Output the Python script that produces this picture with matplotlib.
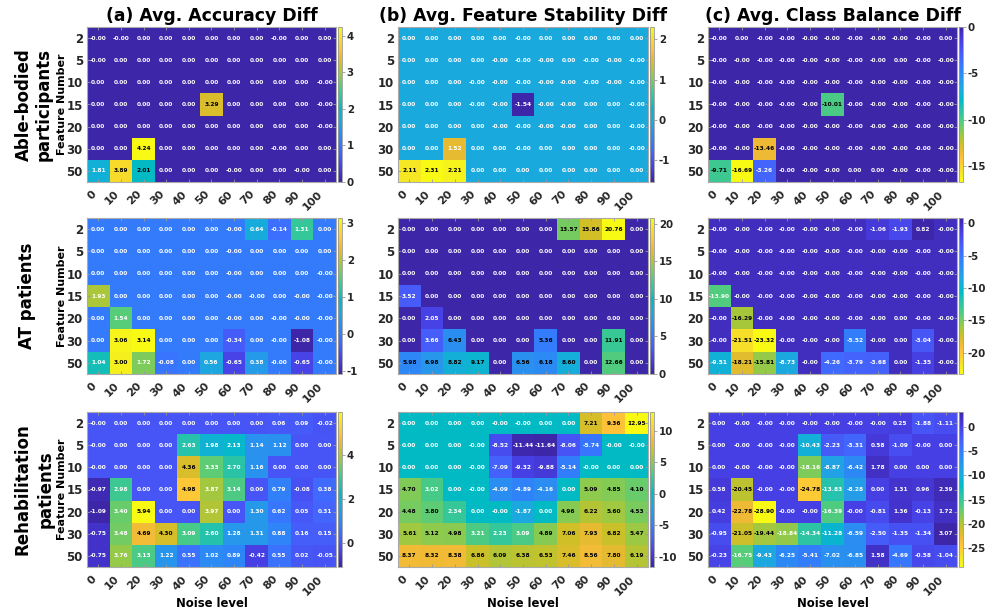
import numpy as np
import matplotlib
matplotlib.use("Agg")
import matplotlib.pyplot as plt
from matplotlib.colors import LinearSegmentedColormap, Normalize

plt.rcParams['font.family'] = ['DejaVu Sans']
plt.rcParams['font.weight'] = 'bold'
plt.rcParams['axes.unicode_minus'] = False

feature_numbers = [2, 5, 10, 15, 20, 30, 50]
noise_levels = [0, 10, 20, 30, 40, 50, 60, 70, 80, 90, 100]
groups = ['Able-bodied\nparticipants', 'AT patients', 'Rehabilitation\npatients']
metrics = ['(a) Avg. Accuracy Diff', '(b) Avg. Feature Stability Diff', '(c) Avg. Class Balance Diff']

# able-bodied participants
able_acc = np.array([
    [-0.0, -0.0, 0.0, 0.0, 0.0, 0.0, 0.0, 0.0, -0.0, 0.0, 0.0],
    [-0.0, 0.0, 0.0, 0.0, 0.0, 0.0, 0.0, 0.0, 0.0, 0.0, 0.0],
    [0.0, 0.0, 0.0, 0.0, 0.0, 0.0, 0.0, 0.0, 0.0, 0.0, -0.0],
    [0.0, 0.0, 0.0, 0.0, 0.0, 3.29, 0.0, 0.0, 0.0, 0.0, -0.0],
    [0.0, 0.0, 0.0, 0.0, 0.0, 0.0, 0.0, 0.0, 0.0, 0.0, -0.0],
    [0.0, 0.0, 4.24, 0.0, 0.0, 0.0, 0.0, 0.0, -0.0, 0.0, 0.0],
    [1.81, 3.89, 2.01, 0.0, 0.0, 0.0, -0.0, 0.0, 0.0, -0.0, 0.0]])
able_stab = np.array([
    [0.0, 0.0, 0.0, 0.0, 0.0, -0.0, 0.0, 0.0, 0.0, 0.0, 0.0],
    [0.0, 0.0, 0.0, 0.0, -0.0, -0.0, -0.0, 0.0, -0.0, -0.0, -0.0],
    [0.0, 0.0, 0.0, -0.0, -0.0, -0.0, -0.0, -0.0, -0.0, -0.0, -0.0],
    [0.0, 0.0, 0.0, -0.0, -0.0, -1.54, -0.0, -0.0, 0.0, 0.0, -0.0],
    [0.0, 0.0, 0.0, 0.0, -0.0, -0.0, -0.0, -0.0, 0.0, 0.0, -0.0],
    [0.0, 0.0, 1.52, 0.0, 0.0, -0.0, 0.0, 0.0, 0.0, 0.0, -0.0],
    [2.11, 2.31, 2.21, 0.0, 0.0, 0.0, 0.0, 0.0, 0.0, 0.0, 0.0]])
able_bal = np.array([
    [-0.0, 0.0, -0.0, -0.0, -0.0, -0.0, -0.0, -0.0, -0.0, -0.0, 0.0],
    [-0.0, -0.0, -0.0, -0.0, -0.0, -0.0, -0.0, -0.0, 0.0, -0.0, -0.0],
    [-0.0, -0.0, -0.0, -0.0, -0.0, -0.0, -0.0, -0.0, -0.0, -0.0, -0.0],
    [-0.0, -0.0, -0.0, -0.0, -0.0, -10.01, -0.0, -0.0, -0.0, -0.0, -0.0],
    [-0.0, -0.0, -0.0, -0.0, -0.0, -0.0, -0.0, -0.0, -0.0, -0.0, -0.0],
    [-0.0, -0.0, -13.46, -0.0, -0.0, -0.0, -0.0, -0.0, -0.0, -0.0, -0.0],
    [-9.71, -16.69, -3.26, -0.0, -0.0, -0.0, 0.0, 0.0, -0.0, -0.0, -0.0]])

# AT patients
at_acc = np.array([
    [0.0, 0.0, 0.0, 0.0, 0.0, 0.0, -0.0, 0.64, -0.14, 1.31, 0.0],
    [0.0, 0.0, 0.0, 0.0, 0.0, 0.0, -0.0, 0.0, 0.0, 0.0, 0.0],
    [0.0, 0.0, 0.0, 0.0, 0.0, 0.0, -0.0, 0.0, 0.0, 0.0, -0.0],
    [1.93, 0.0, 0.0, 0.0, 0.0, 0.0, -0.0, -0.0, 0.0, -0.0, -0.0],
    [0.0, 1.54, 0.0, 0.0, 0.0, 0.0, -0.0, 0.0, -0.0, -0.0, -0.0],
    [0.0, 3.06, 3.14, 0.0, 0.0, 0.0, -0.34, 0.0, -0.0, -1.08, -0.0],
    [1.04, 3.00, 1.72, -0.08, 0.0, 0.56, -0.65, 0.38, -0.0, -0.65, -0.0]])
at_stab = np.array([
    [0.0, 0.0, 0.0, 0.0, 0.0, 0.0, 0.0, 13.57, 15.86, 20.76, 0.0],
    [0.0, 0.0, 0.0, 0.0, 0.0, 0.0, 0.0, 0.0, 0.0, 0.0, 0.0],
    [0.0, 0.0, 0.0, 0.0, 0.0, 0.0, 0.0, 0.0, 0.0, 0.0, 0.0],
    [3.52, 0.0, 0.0, 0.0, 0.0, 0.0, 0.0, 0.0, 0.0, 0.0, 0.0],
    [0.0, 2.05, 0.0, 0.0, 0.0, 0.0, 0.0, 0.0, 0.0, 0.0, 0.0],
    [0.0, 3.66, 6.43, 0.0, 0.0, 0.0, 5.36, 0.0, 0.0, 11.91, 0.0],
    [5.98, 6.98, 8.82, 9.17, 0.0, 6.56, 6.18, 8.60, 0.0, 12.66, 0.0]])
at_bal = np.array([
    [-0.0, -0.0, -0.0, -0.0, -0.0, -0.0, -0.0, -1.06, -1.93, 0.82, -0.0],
    [-0.0, -0.0, -0.0, -0.0, -0.0, -0.0, -0.0, -0.0, -0.0, -0.0, -0.0],
    [-0.0, -0.0, -0.0, -0.0, -0.0, -0.0, -0.0, -0.0, -0.0, -0.0, -0.0],
    [-13.90, -0.0, -0.0, -0.0, -0.0, -0.0, -0.0, -0.0, -0.0, -0.0, -0.0],
    [-0.0, -16.29, -0.0, -0.0, -0.0, -0.0, -0.0, -0.0, 0.0, -0.0, -0.0],
    [-0.0, -21.51, -23.32, -0.0, -0.0, -0.0, -5.52, -0.0, 0.0, -3.04, -0.0],
    [-9.51, -18.21, -15.81, -8.73, -0.0, -4.26, -3.79, -3.68, 0.0, -1.35, -0.0]])

# rehabilitation patients
rehab_acc = np.array([
    [-0.0, 0.0, 0.0, 0.0, 0.0, 0.0, 0.0, 0.0, 0.06, 0.09, -0.02],
    [-0.0, 0.0, 0.0, 0.0, 2.63, 1.98, 2.13, 1.14, 1.12, 0.0, 0.0],
    [-0.0, 0.0, 0.0, 0.0, 4.36, 3.33, 2.70, 1.16, 0.0, 0.0, 0.0],
    [-0.97, 2.98, 0.0, 0.0, 4.98, 3.87, 3.14, 0.0, 0.79, -0.08, 0.38],
    [-1.09, 3.40, 5.94, 0.0, 0.0, 3.97, 0.0, 1.30, 0.62, 0.05, 0.31],
    [-0.75, 3.48, 4.69, 4.30, 3.09, 2.60, 1.28, 1.31, 0.88, 0.16, 0.15],
    [-0.75, 3.76, 3.13, 1.22, 0.55, 1.02, 0.89, -0.42, 0.55, 0.02, -0.05]])
rehab_stab = np.array([
    [0.0, 0.0, 0.0, 0.0, -0.0, -0.0, 0.0, 0.0, 7.21, 9.36, 12.95],
    [0.0, 0.0, 0.0, -0.0, -8.52, -11.44, -11.64, -8.06, -5.74, -0.0, -0.0],
    [0.0, 0.0, 0.0, -0.0, -7.09, -9.32, -9.88, -5.14, -0.0, 0.0, 0.0],
    [4.70, 3.02, 0.0, -0.0, -4.09, -4.89, -4.16, 0.0, 5.09, 4.85, 4.10],
    [4.48, 3.80, 2.34, 0.0, -0.0, -1.87, 0.0, 4.96, 6.22, 5.60, 4.53],
    [5.61, 5.12, 4.98, 3.21, 2.23, 3.09, 4.89, 7.06, 7.93, 6.82, 5.47],
    [8.37, 8.32, 8.38, 6.86, 6.09, 6.38, 6.53, 7.46, 8.56, 7.80, 6.19]])
rehab_bal = np.array([
    [0.0, -0.0, -0.0, -0.0, -0.0, -0.0, -0.0, -0.0, 0.25, -1.88, -1.11],
    [0.0, -0.0, -0.0, -0.0, -10.43, -2.23, -3.31, 0.58, -1.09, -0.0, 0.0],
    [0.0, -0.0, -0.0, -0.0, -18.16, -8.87, -6.42, 1.78, 0.0, 0.0, 0.0],
    [0.58, -20.45, -0.0, -0.0, -24.78, -13.83, -8.28, 0.0, 1.31, 0.96, 2.39],
    [0.42, -22.78, -28.90, -0.0, -0.0, -16.39, -0.0, -0.81, 1.36, -0.13, 1.72],
    [-0.95, -21.05, -19.44, -18.84, -14.34, -11.28, -6.59, -2.50, -1.35, -1.34, 3.07],
    [-0.23, -16.75, -9.43, -6.25, -5.41, -7.02, -6.85, 1.58, -4.69, -0.58, -1.04]])

panels = [[able_acc, able_stab, able_bal],
          [at_acc, at_stab, at_bal],
          [rehab_acc, rehab_stab, rehab_bal]]

cbar_ticks = [[[0, 1, 2, 3, 4], [-1, 0, 1, 2], [0, -5, -10, -15]],
              [[-1, 0, 1, 2, 3], [0, 5, 10, 15, 20], [0, -5, -10, -15, -20]],
              [[0, 2, 4], [-10, -5, 0, 5, 10], [0, -5, -10, -15, -20, -25]]]

# position in colormap above which the cell text turns black
black_above = [[0.45, 0.85, 0.40],
               [0.85, 0.22, 0.65],
               [0.74, 0.615, 0.695]]

# approx. MATLAB parula
parula_pts = [
    (0.2422, 0.1504, 0.6603), (0.2647, 0.1978, 0.7952), (0.2783, 0.2559, 0.8991),
    (0.2810, 0.3228, 0.9579), (0.2699, 0.3892, 0.9906), (0.2206, 0.4603, 0.9973),
    (0.1786, 0.5289, 0.9682), (0.1540, 0.5902, 0.9218), (0.1248, 0.6459, 0.8883),
    (0.0689, 0.6948, 0.8394), (0.0067, 0.7312, 0.7660), (0.1408, 0.7584, 0.6842),
    (0.2161, 0.7843, 0.5923), (0.3406, 0.8008, 0.4789), (0.5044, 0.7993, 0.3480),
    (0.6720, 0.7793, 0.2227), (0.8203, 0.7498, 0.1535), (0.9393, 0.7288, 0.2100),
    (0.9970, 0.7659, 0.2199), (0.9786, 0.8386, 0.1766), (0.9597, 0.9135, 0.1423),
    (0.9769, 0.9839, 0.0805)]
parula = LinearSegmentedColormap.from_list('parula', parula_pts, N=256)
parula_r = parula.reversed()

W, H = 987, 613
fig = plt.figure(figsize=(W / 100, H / 100), dpi=100)

col_x = [(87, 336), (398, 648), (708, 957)]
row_y = [(27, 182), (218, 374), (412, 567)]
row_label_x = [[24, 44], [27], [23, 46]]


def px(x0, y0, x1, y1):
    return [x0 / W, 1 - y1 / H, (x1 - x0) / W, (y1 - y0) / H]


for r in range(3):
    for c in range(3):
        data = panels[r][c]
        cmap = parula_r if c == 2 else parula
        norm = Normalize(vmin=data.min(), vmax=data.max())
        x0, x1 = col_x[c]
        y0, y1 = row_y[r]
        ax = fig.add_axes(px(x0, y0, x1, y1))
        im = ax.imshow(data, cmap=cmap, norm=norm, aspect='auto', interpolation='nearest')

        for i in range(len(feature_numbers)):
            for j in range(len(noise_levels)):
                v = data[i, j]
                t = norm(v)
                if c == 2:
                    t = 1 - t
                color = 'black' if t > black_above[r][c] else 'white'
                ax.text(j, i, f'{v:.2f}', ha='center', va='center',
                        fontsize=4.2, fontweight='bold', color=color)

        ax.set_xticks(range(len(noise_levels)))
        ax.set_xticklabels([str(n) for n in noise_levels], rotation=45,
                           ha='right', fontsize=8, fontweight='bold', color='#262626')
        ax.set_yticks(range(len(feature_numbers)))
        ax.set_yticklabels([str(f) for f in feature_numbers], fontsize=8.5,
                           fontweight='bold', color='#262626')
        ax.tick_params(axis='both', direction='in', length=2, color='#999999',
                       top=True, right=True, width=0.6)
        ax.tick_params(axis='x', pad=5)
        ax.tick_params(axis='y', pad=3)
        for s in ax.spines.values():
            s.set_color('#aaaaaa')
            s.set_linewidth(0.8)

        if r == 0:
            ax.set_title(metrics[c], fontsize=12.4, fontweight='bold', pad=4)
        if r == 2:
            ax.set_xlabel('Noise level', fontsize=8.4, fontweight='bold', labelpad=0)
        if c == 0:
            fig.text(62 / W, 1 - (y0 + y1) / 2 / H, 'Feature Number', rotation=90,
                     ha='center', va='center', fontsize=8, fontweight='bold')

        cax = fig.add_axes(px(x1 + 2, y0, x1 + 6, y1))
        cb = fig.colorbar(im, cax=cax, ticks=cbar_ticks[r][c])
        cb.outline.set_edgecolor('#999999')
        cb.outline.set_linewidth(0.6)
        cax.tick_params(length=2, width=0.6, color='#999999', pad=1.5)
        for lab in cax.get_yticklabels():
            lab.set_fontsize(7.4)
            lab.set_fontweight('bold')
            lab.set_color('#262626')

    # group label on the left
    yc = 1 - (row_y[r][0] + row_y[r][1]) / 2 / H
    lines = groups[r].split('\n')
    for k, line in enumerate(lines):
        fig.text(row_label_x[r][k] / W, yc, line, rotation=90, ha='center', va='center',
                 fontsize=12, fontweight='bold')

fig.savefig('out.png', dpi=100)
